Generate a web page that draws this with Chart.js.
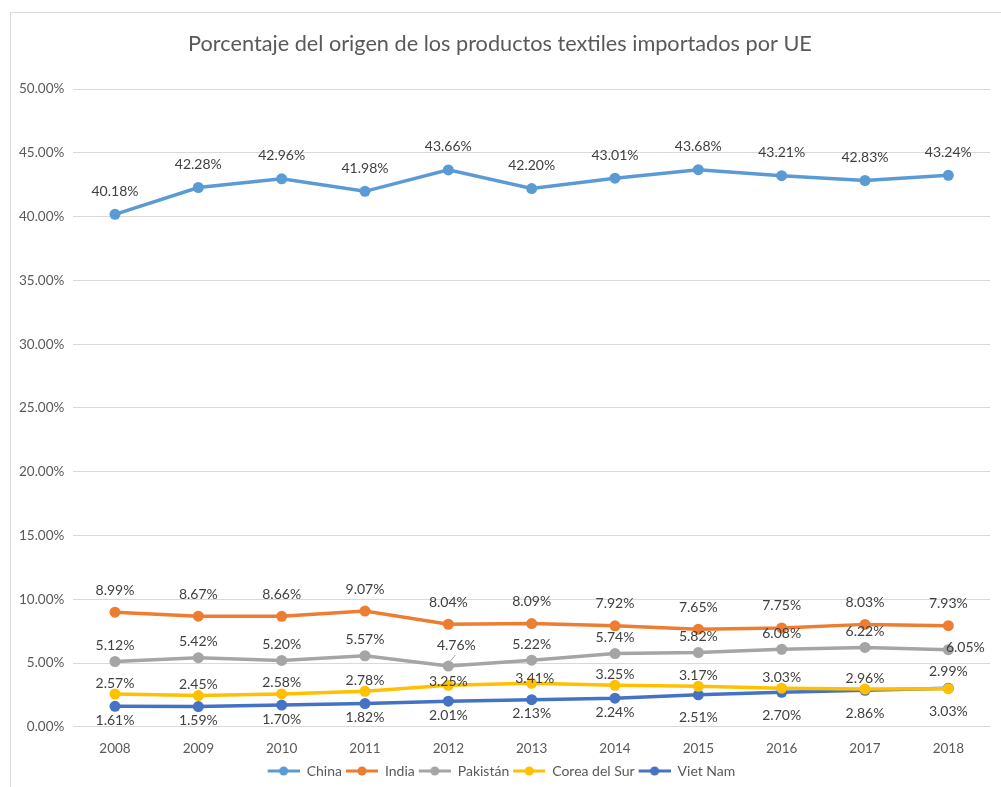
<!DOCTYPE html>
<html>
<head>
<meta charset="utf-8">
<script src="https://cdn.jsdelivr.net/npm/chart.js@4"></script>
<style>
  body { margin: 0; background: #fff; }
  #wrap { position: absolute; left: 0; top: 0; width: 1001px; height: 787px; }
</style>
</head>
<body>
<div id="wrap"><canvas id="myChart"></canvas></div>
<script>
const years = ['2008', '2009', '2010', '2011', '2012', '2013', '2014', '2015', '2016', '2017', '2018']

const china = [40.18, 42.28, 42.96, 41.98, 43.66, 42.20, 43.01, 43.68, 43.21, 42.83, 43.24]
const india = [8.99, 8.67, 8.66, 9.07, 8.04, 8.09, 7.92, 7.65, 7.75, 8.03, 7.93]
const pakistan = [5.12, 5.42, 5.20, 5.57, 4.76, 5.22, 5.74, 5.82, 6.08, 6.22, 6.05]
const corea = [2.57, 2.45, 2.58, 2.78, 3.25, 3.41, 3.25, 3.17, 3.03, 2.96, 2.99]
const vietnam = [1.61, 1.59, 1.70, 1.82, 2.01, 2.13, 2.24, 2.51, 2.70, 2.86, 3.03]

const FONT = 'Lato, "Open Sans", sans-serif'
const TEXT = '#595959'

// label placement (dx, dy from the point), like the Excel labels
const labelPos = {
	China: () => [0, -23],
	India: () => [0, -22],
	'Pakistán': i => (i === 4 ? [8, -21] : i === 10 ? [17, -2] : [0, -16]),
	'Corea del Sur': i => (i === 4 ? [0, -4] : i === 5 ? [3, -5] : i === 10 ? [0, -17] : [0, -11]),
	'Viet Nam': i => (i >= 7 ? [0, 23] : [0, 14]),
}

function legendIcon(color) {
	const c = document.createElement('canvas')
	c.width = 35
	c.height = 12
	const g = c.getContext('2d')
	g.strokeStyle = color
	g.lineWidth = 3
	g.beginPath()
	g.moveTo(3, 6)
	g.lineTo(35, 6)
	g.stroke()
	g.fillStyle = color
	g.beginPath()
	g.arc(19, 6, 4.5, 0, Math.PI * 2)
	g.fill()
	return c
}

function ds(label, data, color) {
	return {
		label: label,
		data: data,
		borderColor: color,
		backgroundColor: color,
		borderWidth: 3.5,
		pointRadius: 5.5,
		pointHoverRadius: 5.5,
		pointBorderWidth: 0,
		tension: 0,
	}
}

const labelsPlugin = {
	id: 'pointLabels',
	afterDatasetsDraw(chart) {
		const ctx = chart.ctx
		ctx.save()
		ctx.font = '14px ' + FONT
		ctx.fillStyle = '#404040'
		ctx.textAlign = 'center'
		ctx.textBaseline = 'middle'
		chart.data.datasets.forEach((d, di) => {
			const meta = chart.getDatasetMeta(di)
			meta.data.forEach((pt, i) => {
				const [dx, dy] = labelPos[d.label](i)
				if (d.label === 'Pakistán' && i === 4) {
					ctx.strokeStyle = '#a5a5a5'
					ctx.lineWidth = 1
					ctx.beginPath()
					ctx.moveTo(pt.x + 2, pt.y - 5)
					ctx.lineTo(pt.x + 7, pt.y - 11)
					ctx.stroke()
				}
				ctx.fillText(d.data[i].toFixed(2) + '%', pt.x + dx, pt.y + dy)
			})
		})
		ctx.restore()
	},
	beforeDraw(chart) {
		const ctx = chart.ctx
		ctx.save()
		ctx.fillStyle = '#fff'
		ctx.fillRect(0, 0, chart.width, chart.height)
		ctx.strokeStyle = '#d9d9d9'
		ctx.lineWidth = 1
		ctx.strokeRect(10.5, 12.5, chart.width + 10, chart.height + 10)
		ctx.restore()
	},
}

const myChart = new Chart(document.getElementById('myChart'), {
	type: 'line',
	data: {
		labels: years,
		datasets: [
			ds('China', china, '#5B9BD5'),
			ds('India', india, '#ED7D31'),
			ds('Pakistán', pakistan, '#A5A5A5'),
			ds('Corea del Sur', corea, '#FFC000'),
			ds('Viet Nam', vietnam, '#4472C4'),
		],
	},
	plugins: [labelsPlugin],
	options: {
		responsive: true,
		maintainAspectRatio: false,
		animation: false,
		layout: {
			padding: { top: 22, left: 10, right: 11, bottom: -1 },
		},
		plugins: {
			title: {
				display: true,
				text: 'Porcentaje del origen de los productos textiles importados por UE',
				color: TEXT,
				font: { family: FONT, size: 21.7, weight: 'normal' },
				padding: { top: 9, bottom: 32 },
			},
			legend: {
				display: true,
				position: 'bottom',
				labels: {
					color: TEXT,
					font: { family: FONT, size: 14 },
					usePointStyle: true,
					pointStyleWidth: 35,
					padding: 1,
					generateLabels(chart) {
						return chart.data.datasets.map((d, i) => ({
							text: d.label,
							fillStyle: d.borderColor,
							strokeStyle: d.borderColor,
							lineWidth: 0,
							pointStyle: legendIcon(d.borderColor),
							datasetIndex: i,
							hidden: false,
							fontColor: TEXT,
						}))
					},
				},
			},
			tooltip: { enabled: false },
		},
		scales: {
			x: {
				offset: true,
				grid: { display: false },
				border: { display: false },
				ticks: {
					color: TEXT,
					font: { family: FONT, size: 13.5 },
					padding: 6,
				},
			},
			y: {
				min: 0,
				max: 50,
				grid: { color: '#d9d9d9', drawTicks: false, lineWidth: 1 },
				border: { display: false },
				ticks: {
					stepSize: 5,
					color: TEXT,
					font: { family: FONT, size: 13.5 },
					padding: 9,
					callback: v => v.toFixed(2) + '%',
				},
			},
		},
	},
})
</script>
</body>
</html>
